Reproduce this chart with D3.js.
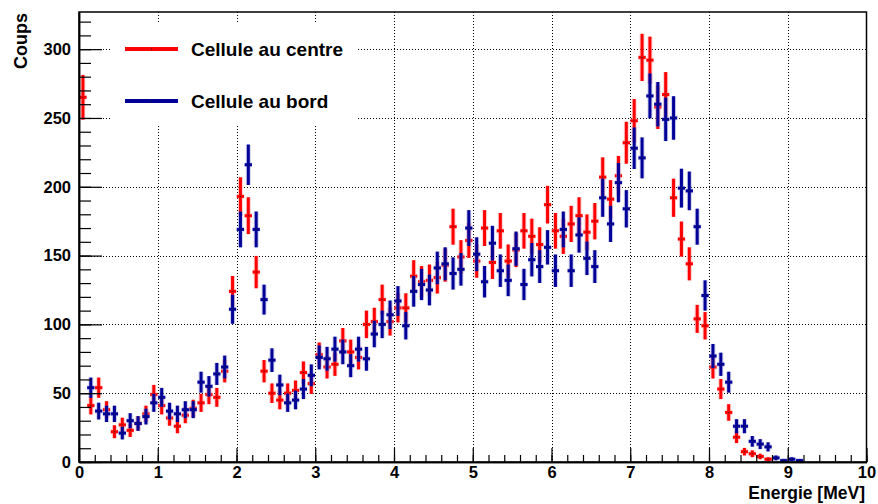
<!DOCTYPE html>
<html>
<head>
<meta charset="utf-8">
<script src="https://cdn.jsdelivr.net/npm/d3@7"></script>
<style>
  html, body { margin: 0; padding: 0; background: #fff; }
  svg { display: block; font-family: "Liberation Sans", Arial, Helvetica, sans-serif; font-weight: bold; }
</style>
</head>
<body>
<svg id="chart" width="878" height="504"></svg>
<script>
// Energy spectra: counts per 0.1 MeV bin, bin centres 0.05 ... 9.15 MeV
const binWidth = 0.1;
const binCentres = d3.range(92).map(i => +(0.05 + i * binWidth).toFixed(2));

const countsCentre = [
  265, 41, 54, 38, 22, 27, 23, 28, 35, 49,
  41, 32, 26, 34, 39, 43, 49, 47, 66, 124,
  193, 179, 138, 66, 50, 45, 50, 52, 65, 57,
  78, 69, 71, 88, 80, 76, 100, 102, 118, 102,
  112, 112, 135, 131, 132, 134, 143, 171, 149, 161,
  146, 170, 145, 168, 146, 154, 168, 164, 158, 187,
  168, 164, 173, 179, 167, 175, 207, 191, 208, 232,
  248, 294, 292, 258, 267, 192, 162, 144, 104, 99,
  69, 53, 36, 18, 7.5, 6, 4, 2, 0, 0,
  0, 0
];

const countsBord = [
  0, 54, 37, 35, 35, 21, 30, 28, 33, 43,
  47, 37, 35, 38, 38, 58, 55, 64, 69, 111,
  169, 216, 169, 118, 74, 56, 43, 45, 53, 63,
  76, 75, 82, 80, 70, 82, 75, 93, 100, 107,
  117, 99, 124, 129, 125, 141, 144, 137, 140, 170,
  151, 131, 159, 139, 132, 155, 129, 147, 142, 156,
  139, 169, 139, 165, 148, 142, 192, 173, 203, 184,
  228, 221, 266, 260, 249, 250, 199, 197, 171, 121,
  77, 71, 58, 26, 26, 15, 13, 11, 3, 1,
  2, 1
];

const seriesNames = ["Cellule au centre", "Cellule au bord"];
const seriesColors = ["#ff0000", "#000099"];
const seriesHalo = ["#ff9a9a", "#9a9ad8"];

const xTickValues = d3.range(0, 11, 1);
const yTickValues = d3.range(0, 301, 50);
const xLabel = "Energie [MeV]";
const yLabel = "Coups";

const svg = d3.select("#chart");
const frame = { left: 79, right: 866.5, top: 12, bottom: 462 };

const x = d3.scaleLinear().domain([0, 10]).range([frame.left, frame.right]);
const y = d3.scaleLinear().domain([0, 327]).range([frame.bottom, frame.top]);

// dotted grid at the major ticks
const grid = svg.append("g").attr("stroke", "#000").attr("stroke-width", 1)
  .attr("stroke-dasharray", "1,2");
grid.selectAll("line.gx").data(xTickValues.filter(v => v > 0 && v < 10)).join("line")
  .attr("x1", d => Math.round(x(d)) + 0.5).attr("x2", d => Math.round(x(d)) + 0.5)
  .attr("y1", frame.top).attr("y2", frame.bottom);
grid.selectAll("line.gy").data(yTickValues.filter(v => v > 0)).join("line")
  .attr("y1", d => Math.round(y(d)) + 0.5).attr("y2", d => Math.round(y(d)) + 0.5)
  .attr("x1", frame.left).attr("x2", frame.right);

// legend box (white, no border) sits over the grid
const legend = svg.append("g");
legend.append("rect").attr("x", 112).attr("y", 24).attr("width", 246).attr("height", 102)
  .attr("fill", "#fff");

// histograms with sqrt(N) error bars
const series = [countsCentre, countsBord];
const half = x(binWidth / 2) - x(0);

series.forEach((counts, s) => {
  const pts = binCentres.map((c, i) => ({ c, v: counts[i] })).filter(d => d.v > 0);
  const g = svg.append("g");
  const draw = (color, width, opacity) => {
    const h = g.append("g").attr("stroke", color).attr("stroke-width", width)
      .attr("opacity", opacity);
    h.selectAll("line.v").data(pts).join("line")
      .attr("x1", d => x(d.c)).attr("x2", d => x(d.c))
      .attr("y1", d => y(d.v + Math.sqrt(d.v))).attr("y2", d => y(Math.max(0, d.v - Math.sqrt(d.v))));
    h.selectAll("line.h").data(pts).join("line")
      .attr("x1", d => x(d.c) - half + 0.3).attr("x2", d => x(d.c) + half - 0.3)
      .attr("y1", d => y(d.v)).attr("y2", d => y(d.v));
  };
  draw(seriesHalo[s], 5, 0.45);
  draw(seriesColors[s], 3, 1);
  g.selectAll("rect.m").data(pts).join("rect")
    .attr("x", d => x(d.c) - 0.5).attr("y", d => y(d.v) - 0.5)
    .attr("width", 1).attr("height", 1).attr("fill", "#222");
});

// legend entries
seriesNames.forEach((name, s) => {
  const ly = [49, 101][s];
  legend.append("line").attr("x1", 125).attr("x2", 178).attr("y1", ly).attr("y2", ly)
    .attr("stroke", seriesColors[s]).attr("stroke-width", 4);
  legend.append("rect").attr("x", 151).attr("y", ly - 0.5).attr("width", 1).attr("height", 1)
    .attr("fill", "#222");
  legend.append("text").attr("x", 191).attr("y", ly).attr("dy", "0.36em")
    .attr("font-size", 19).attr("fill", "#000").text(name);
});

// frame
svg.append("rect").attr("x", frame.left).attr("y", frame.top)
  .attr("width", frame.right - frame.left).attr("height", frame.bottom - frame.top)
  .attr("fill", "none").attr("stroke", "#000").attr("stroke-width", 1.5);

// axes with ROOT-style inward ticks
const yMinor = d3.axisLeft(y).tickValues(d3.range(0, 321, 10)).tickSizeInner(-12).tickSizeOuter(0).tickFormat("");
const yMajor = d3.axisLeft(y).tickValues(yTickValues).tickSizeInner(-23).tickSizeOuter(0).tickPadding(8);
const xMinor = d3.axisBottom(x).tickValues(d3.range(0, 10.01, 0.2)).tickSizeInner(-7).tickSizeOuter(0).tickFormat("");
const xMajor = d3.axisBottom(x).tickValues(xTickValues).tickSizeInner(-14).tickSizeOuter(0).tickPadding(4).tickFormat(d3.format("d"));

const styleAxis = g => {
  g.select(".domain").attr("stroke", "#000").attr("stroke-width", 1.5);
  g.selectAll(".tick line").attr("stroke", "#000").attr("stroke-width", 1.2);
  g.selectAll("text").attr("fill", "#000").attr("font-size", 16.5)
    .attr("font-family", '"Liberation Sans", Arial, sans-serif').attr("font-weight", "bold");
};
svg.append("g").attr("transform", `translate(${frame.left},0)`).call(yMinor).call(styleAxis);
svg.append("g").attr("transform", `translate(${frame.left},0)`).call(yMajor).call(styleAxis);
svg.append("g").attr("transform", `translate(0,${frame.bottom})`).call(xMinor).call(styleAxis);
svg.append("g").attr("transform", `translate(0,${frame.bottom})`).call(xMajor).call(styleAxis);

// axis titles
svg.append("text").attr("x", 865).attr("y", 499).attr("text-anchor", "end")
  .attr("font-size", 17.5).attr("fill", "#000").text(xLabel);
svg.append("text").attr("transform", "translate(27,13) rotate(-90)").attr("text-anchor", "end")
  .attr("font-size", 18).attr("fill", "#000").text(yLabel);
</script>
</body>
</html>
